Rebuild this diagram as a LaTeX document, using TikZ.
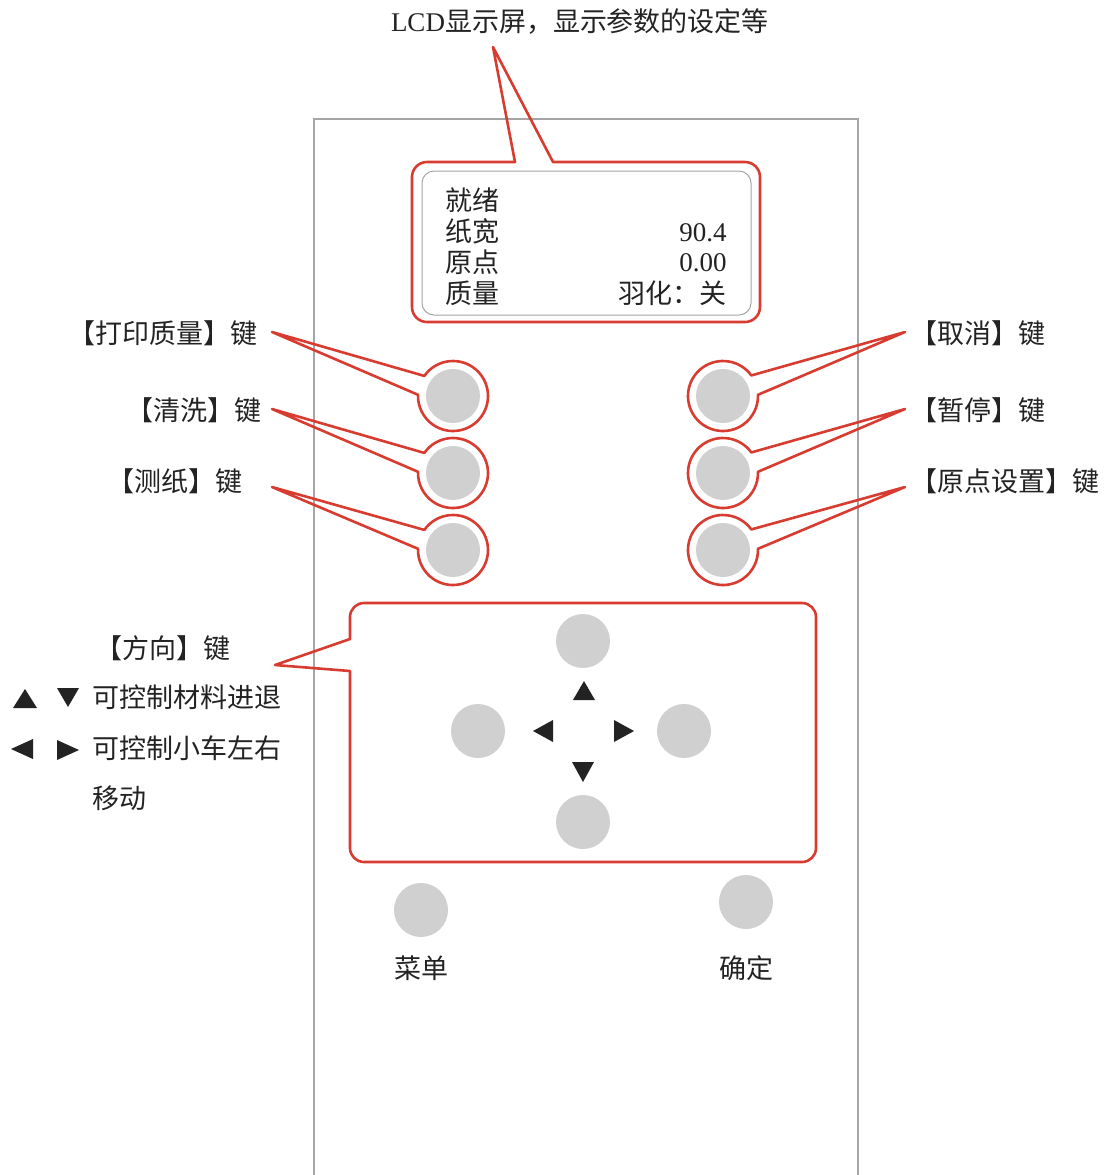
\documentclass[tikz,border=0pt]{standalone}
\usepackage{fontspec}
\setmainfont{Liberation Serif}
\newfontfamily\cjk{Noto Sans CJK SC}
\definecolor{keyred}{RGB}{216,60,48}
\definecolor{keygray}{RGB}{208,208,208}
\definecolor{panelgray}{RGB}{165,165,165}
\definecolor{inkcolor}{RGB}{35,35,35}
\tikzset{
	panelstyle/.style={draw=panelgray,line width=0.6pt},
	callstyle/.style={draw=keyred,line width=1.3pt,line join=round},
	keystyle/.style={circle,fill=keygray,minimum size=27pt,inner sep=0pt},
	textstyle/.style={inner sep=0pt,text=inkcolor,font=\fontsize{13.5}{16}\selectfont\cjk},
	tristyle/.style={fill=inkcolor}
}
\begin{document}
\begin{tikzpicture}[x=0.5pt,y=-0.5pt]
	\useasboundingbox (0,0) rectangle (1109,1175);
	\draw[panelstyle] (314,1175) -- (314,119) -- (858,119) -- (858,1175);
	\node[textstyle] (title) at (580,22) {{\rmfamily LCD}显示屏，显示参数的设定等};
	\coordinate (lcdtip) at (493,47);
	\draw[callstyle] (553,162) [rounded corners=7.5pt] -- (760,162) -- (760,322) -- (412,322) -- (412,162) [sharp corners] -- (515,162) -- (lcdtip) -- cycle;
	\draw[panelstyle,line width=0.5pt,rounded corners=6pt] (422,171) rectangle (751,315);
	\node[textstyle,anchor=west] (r1) at (445,200) {就绪};
	\node[textstyle,anchor=west] (r2) at (445,231) {纸宽};
	\node[textstyle,anchor=west] (r3) at (445,262) {原点};
	\node[textstyle,anchor=west] (r4) at (445,293) {质量};
	\node[textstyle,anchor=east] (v2) at (727,233) {\rmfamily 90.4};
	\node[textstyle,anchor=east] (v3) at (727,263) {\rmfamily 0.00};
	\node[textstyle,anchor=east] (v4) at (727,293) {羽化：关};
	\node[keystyle] (k1) at (453,396) {};
	\node[keystyle] (k2) at (453,473) {};
	\node[keystyle] (k3) at (453,550) {};
	\node[keystyle] (k4) at (723,396) {};
	\node[keystyle] (k5) at (723,473) {};
	\node[keystyle] (k6) at (723,550) {};
	\node[textstyle] (l1) at (163,333) {【打印质量】键};
	\node[textstyle] (l2) at (194,410) {【清洗】键};
	\node[textstyle] (l3) at (175,481) {【测纸】键};
	\node[textstyle] (l4) at (978,333) {【取消】键};
	\node[textstyle] (l5) at (978,410) {【暂停】键};
	\node[textstyle] (l6) at (1005,481) {【原点设置】键};
	\coordinate (p1) at (272,332);
	\coordinate (p2) at (272,409);
	\coordinate (p3) at (272,487);
	\coordinate (p4) at (905,332);
	\coordinate (p5) at (905,409);
	\coordinate (p6) at (905,487);
	\draw[callstyle] (p1) -- ([shift={(215:35)}]k1.center) arc[start angle=215,delta angle=327,radius=35] -- cycle;
	\draw[callstyle] (p2) -- ([shift={(215:35)}]k2.center) arc[start angle=215,delta angle=327,radius=35] -- cycle;
	\draw[callstyle] (p3) -- ([shift={(215:35)}]k3.center) arc[start angle=215,delta angle=327,radius=35] -- cycle;
	\draw[callstyle] (p4) -- ([shift={(-36:35)}]k4.center) arc[start angle=-36,delta angle=-326,radius=35] -- cycle;
	\draw[callstyle] (p5) -- ([shift={(-36:35)}]k5.center) arc[start angle=-36,delta angle=-326,radius=35] -- cycle;
	\draw[callstyle] (p6) -- ([shift={(-36:35)}]k6.center) arc[start angle=-36,delta angle=-326,radius=35] -- cycle;
	\coordinate (p7) at (275,665);
	\draw[callstyle] (350,671) [rounded corners=7pt] -- (350,862) -- (816,862) -- (816,603) -- (350,603) [sharp corners] -- (350,639) -- (p7) -- cycle;
	\node[keystyle] (k7) at (583,641) {};
	\node[keystyle] (k8) at (478,731) {};
	\node[keystyle] (k9) at (684,731) {};
	\node[keystyle] (k10) at (583,822) {};
	\fill[tristyle] (584,681) -- (595,700) -- (573,700) -- cycle;
	\fill[tristyle] (533,731) -- (553,720) -- (553,742) -- cycle;
	\fill[tristyle] (634,731) -- (614,720) -- (614,742) -- cycle;
	\fill[tristyle] (583,782) -- (594,762) -- (572,762) -- cycle;
	\node[textstyle] (l7) at (163,648) {【方向】键};
	\fill[tristyle] (25,689) -- (37,708) -- (13,708) -- cycle;
	\fill[tristyle] (68,707) -- (79,688) -- (57,688) -- cycle;
	\fill[tristyle] (11,749) -- (33,739) -- (33,759) -- cycle;
	\fill[tristyle] (79,750) -- (57,740) -- (57,760) -- cycle;
	\node[textstyle,anchor=west] (l8) at (92,697) {可控制材料进退};
	\node[textstyle,anchor=west] (l9) at (92,748) {可控制小车左右};
	\node[textstyle,anchor=west] (l10) at (92,798) {移动};
	\node[keystyle] (k11) at (421,910) {};
	\node[keystyle] (k12) at (746,902) {};
	\node[textstyle] (l11) at (421,968) {菜单};
	\node[textstyle] (l12) at (746,968) {确定};
\end{tikzpicture}
\end{document}
